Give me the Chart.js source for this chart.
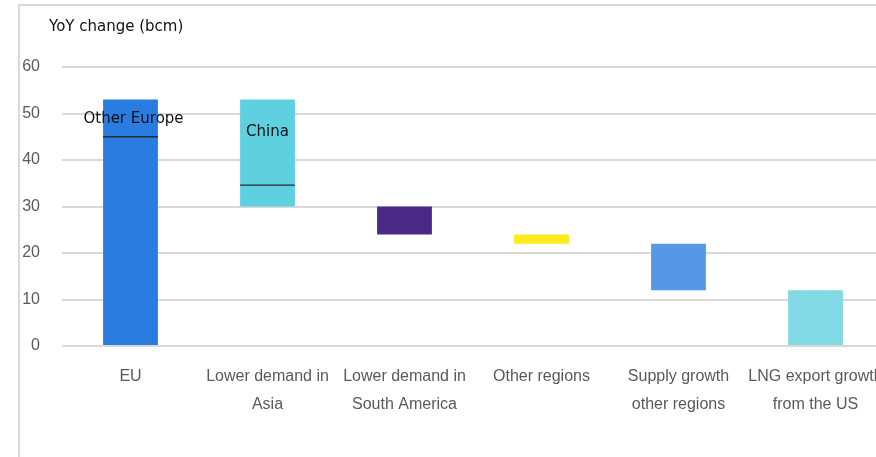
<!DOCTYPE html>
<html>
<head>
<meta charset="utf-8">
<script src="https://cdn.jsdelivr.net/npm/chart.js@4.4.1/dist/chart.umd.min.js"></script>
<style>
  html, body { margin: 0; padding: 0; background: #fff; overflow: hidden; width: 876px; height: 457px; }
  #frame { position: absolute; left: 18px; top: 4px; width: 900px; height: 470px; border-left: 2px solid #d9d9d9; border-top: 2px solid #d9d9d9; }
  #wrap { position: absolute; left: 0; top: 0; width: 884px; height: 457px; }
</style>
</head>
<body>
<div id="frame"></div>
<div id="wrap"><canvas id="c"></canvas></div>
<script>
// ---- data ----
const categories = [
  "EU",
  ["Lower demand in", "Asia"],
  ["Lower demand in", "South America"],
  "Other regions",
  ["Supply growth", "other regions"],
  ["LNG export growth", "from the US"]
];
const barStart = [0, 30, 24, 22, 12, 0];
const barEnd   = [53, 53, 30, 24, 22, 12];
const dividerValue = [45, 34.6, null, null, null, null];
const segmentLabel = ["Other Europe", "China", null, null, null, null];
const yTicks = [0, 10, 20, 30, 40, 50, 60];
const barColors = ["#2B7CE0", "#5FD0E0", "#4B2A87", "#FCEB1D", "#5598E5", "#80D9E3"];

const floating = barStart.map((s, i) => [s, barEnd[i]]);

const overlay = {
  id: 'overlay',
  afterDatasetsDraw(chart, args, opts) {
    const ctx = chart.ctx;
    const meta = chart.getDatasetMeta(0);
    const y = chart.scales.y;
    ctx.save();
    meta.data.forEach((bar, i) => {
      if (dividerValue[i] == null) return;
      const half = bar.width / 2;
      const py = y.getPixelForValue(dividerValue[i]);
      ctx.strokeStyle = '#2b2b2b';
      ctx.lineWidth = 1.3;
      ctx.beginPath();
      ctx.moveTo(bar.x - half, py);
      ctx.lineTo(bar.x + half, py);
      ctx.stroke();
    });
    ctx.font = '15px "DejaVu Sans"';
    ctx.fillStyle = '#111';
    ctx.textAlign = 'center';
    ctx.textBaseline = 'middle';
    meta.data.forEach((bar, i) => {
      if (!segmentLabel[i]) return;
      const v = opts.labelAt[i];
      ctx.fillText(segmentLabel[i], bar.x + opts.labelDx[i], y.getPixelForValue(v));
    });
    // axis title
    ctx.textAlign = 'left';
    ctx.font = '15px "DejaVu Sans"';
    ctx.fillText(opts.title, 49, 27);
    ctx.restore();
  }
};

new Chart(document.getElementById('c'), {
  type: 'bar',
  data: {
    labels: categories,
    datasets: [{
      data: floating,
      backgroundColor: barColors,
      borderWidth: 0,
      barPercentage: 0.4,
      categoryPercentage: 1.0
    }]
  },
  options: {
    responsive: true,
    maintainAspectRatio: false,
    animation: false,
    layout: { padding: { left: 22, right: 0, top: 67, bottom: 40 } },
    plugins: {
      legend: { display: false },
      tooltip: { enabled: false },
      overlay: { title: 'YoY change (bcm)', labelAt: [48.8, 45.9], labelDx: [3, 0] }
    },
    scales: {
      x: {
        grid: { display: false },
        border: { display: false },
        afterFit(scale) { scale.height = 71; scale.paddingLeft = 0; scale.paddingRight = 0; },
        ticks: {
          color: '#595959',
          font: { family: '"Liberation Sans", Arial', size: 16, lineHeight: 1.75 },
          padding: 9,
          maxRotation: 0,
          autoSkip: false
        }
      },
      y: {
        min: 0,
        max: 60,
        afterBuildTicks(scale) { scale.ticks = yTicks.map(v => ({ value: v })); },
        afterFit(scale) { scale.width = 40; },
        grid: { color: '#d9d9d9', lineWidth: 2, drawTicks: false },
        border: { display: false },
        ticks: {
          color: '#595959',
          font: { family: '"Liberation Sans", Arial', size: 16 },
          padding: 22
        }
      }
    }
  },
  plugins: [overlay]
});
</script>
</body>
</html>
